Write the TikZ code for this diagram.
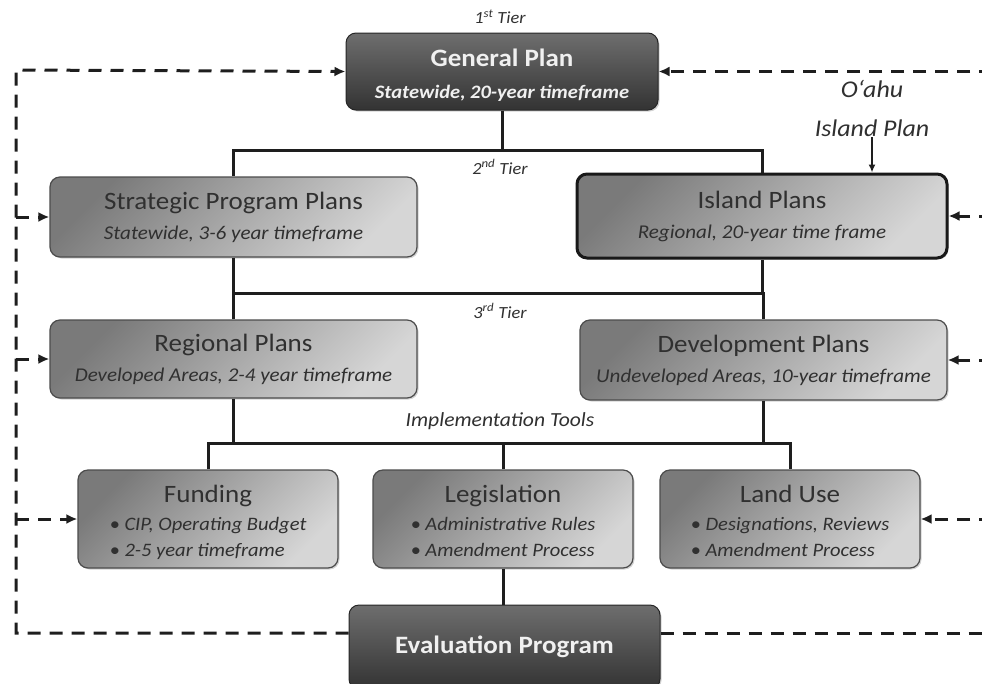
\documentclass[tikz,border=0pt]{standalone}
\usepackage{fontspec}
\setmainfont{Carlito}[FakeStretch=1.08]
\usetikzlibrary{arrows.meta,shadows}
\definecolor{darkA}{HTML}{6E6E6E}
\definecolor{darkB}{HTML}{333333}
\definecolor{lightA}{HTML}{7A7A7A}
\definecolor{lightB}{HTML}{D6D6D6}
\definecolor{txtdark}{HTML}{303030}
\definecolor{txtlight}{HTML}{F0F0F0}
\definecolor{linec}{HTML}{1E1E1E}
\newcommand{\ttl}{\fontsize{25}{30}\selectfont}
\newcommand{\sbt}{\fontsize{19.5}{30}\selectfont\itshape}
\newcommand{\bul}{\fontsize{19}{26}\selectfont\itshape}
\newcommand{\tier}{\fontsize{17}{20}\selectfont\itshape}
\tikzset{
  lightbox/.style={rounded corners=10pt, draw=black!70, line width=1.2pt,
    left color=lightA, right color=lightB, shading angle=45,
    drop shadow={shadow xshift=1.5pt, shadow yshift=-1.5pt, opacity=0.35},
    text=txtdark, align=center, inner sep=0pt, font=\fontsize{20}{30}\selectfont},
  toolbox/.style={lightbox, minimum width=260pt, minimum height=98pt, font=\fontsize{20}{28}\selectfont},
  darkbox/.style={rounded corners=10pt, draw=black!85, line width=1pt,
    top color=darkA, bottom color=darkB,
    drop shadow={shadow xshift=1.5pt, shadow yshift=-1.5pt, opacity=0.35},
    text=txtlight, align=center, inner sep=0pt, font=\fontsize{20}{32}\selectfont\bfseries},
  tree/.style={draw=linec, line width=3pt},
  fb/.style={draw=linec, line width=3pt, dash pattern=on 13pt off 9pt},
  tip/.style={-{Latex[length=11pt,width=10pt]}},
  lbl/.style={text=txtdark, inner sep=0pt}
}
\begin{document}
\begin{tikzpicture}[x=1pt,y=-1pt]
\useasboundingbox (0,0) rectangle (982,683);
% boxes
\node[darkbox, minimum width=312pt, minimum height=77pt] (gp) at (502,71.5)
  {{\ttl\rule{0pt}{24pt}General Plan}\\{\fontsize{19}{32}\selectfont\itshape Statewide, 20-year timeframe}};
\node[lightbox, minimum width=367pt, minimum height=80pt] (spp) at (233.5,217)
  {{\ttl Strategic Program Plans}\\{\sbt Statewide, 3-6 year timeframe}};
\node[lightbox, line width=3pt, draw=black!90, minimum width=370pt, minimum height=84pt] (isl) at (762,216)
  {{\ttl Island Plans}\\{\sbt Regional, 20-year time frame}};
\node[lightbox, minimum width=367pt, minimum height=78pt] (reg) at (233.5,359)
  {{\ttl Regional Plans}\\{\sbt Developed Areas, 2-4 year timeframe}};
\node[lightbox, minimum width=367pt, minimum height=80pt] (dev) at (763.5,360)
  {{\ttl Development Plans}\\{\sbt Undeveloped Areas, 10-year timeframe}};
\node[toolbox] (fund) at (208,519)
  {{\ttl\rule{0pt}{28pt}Funding}\\{\bul\begin{tabular}[t]{@{}l@{}}• CIP, Operating Budget\\ • 2-5 year timeframe\end{tabular}}};
\node[toolbox] (leg) at (503,519)
  {{\ttl\rule{0pt}{28pt}Legislation}\\{\bul\begin{tabular}[t]{@{}l@{}}• Administrative Rules\\ • Amendment Process\end{tabular}}};
\node[toolbox] (land) at (790,519)
  {{\ttl\rule{0pt}{28pt}Land Use}\\{\bul\begin{tabular}[t]{@{}l@{}}• Designations, Reviews\\ • Amendment Process\end{tabular}}};
\node[darkbox, minimum width=311pt, minimum height=84pt] (eval) at (504.5,647)
  {\ttl Evaluation Program};
% labels
\node[lbl, font=\tier] (t1) at (500,17) {1\textsuperscript{st} Tier};
\node[lbl, font=\tier] (t2) at (500,167) {2\textsuperscript{nd} Tier};
\node[lbl, font=\tier] (t3) at (500,311) {3\textsuperscript{rd} Tier};
\node[lbl, font=\fontsize{20}{24}\selectfont\itshape] (impl) at (500,421) {Implementation Tools};
\node[lbl, font=\fontsize{24}{39}\selectfont\itshape, align=center, anchor=south] (oahu) at (872,137) {O‘ahu\\Island Plan};
% tree connectors
\coordinate (j1) at (502,150);
\coordinate (j2) at (502,293);
\coordinate (j3) at (502,443);
\draw[tree] (gp.south) -- (j1);
\draw[tree] (spp.north) |- (j1) -| (isl.north);
\draw[tree] (spp.south) |- (j2) -| (isl.south);
\draw[tree] (reg.north) |- (j2) -| (dev.north);
\draw[tree] (reg.south) -- (reg.south |- j3);
\draw[tree] (dev.south) -- (dev.south |- j3);
\draw[tree] (fund.north) |- (j3) -| (land.north);
\draw[tree] (leg.north) -- (leg.north |- j3);
\draw[tree] (leg.south) -- (leg.south |- eval.north);
\draw[draw=linec, line width=1.6pt, -{Latex[length=8pt,width=7pt]}] (oahu.south) -- (oahu.south |- isl.north);
% feedback loop
\coordinate (lt) at (16,70);
\coordinate (lb) at (16,633);
\coordinate (re) at (992,0);
\draw[fb, tip] (eval.west |- lb) -- (lb) -- (lt) -- (gp.west);
\draw[fb, tip] (spp.west -| lt) -- (spp.west);
\draw[fb, tip] (reg.west -| lt) -- (reg.west);
\draw[fb, tip] (fund.west -| lt) -- (fund.west);
\draw[fb, tip] (gp.east -| re) -- (gp.east);
\draw[fb, tip] (isl.east -| re) -- (isl.east);
\draw[fb, tip] (dev.east -| re) -- (dev.east);
\draw[fb, tip] (land.east -| re) -- (land.east);
\draw[fb] (eval.east |- lb) -- (lb -| re);
\end{tikzpicture}
\end{document}
